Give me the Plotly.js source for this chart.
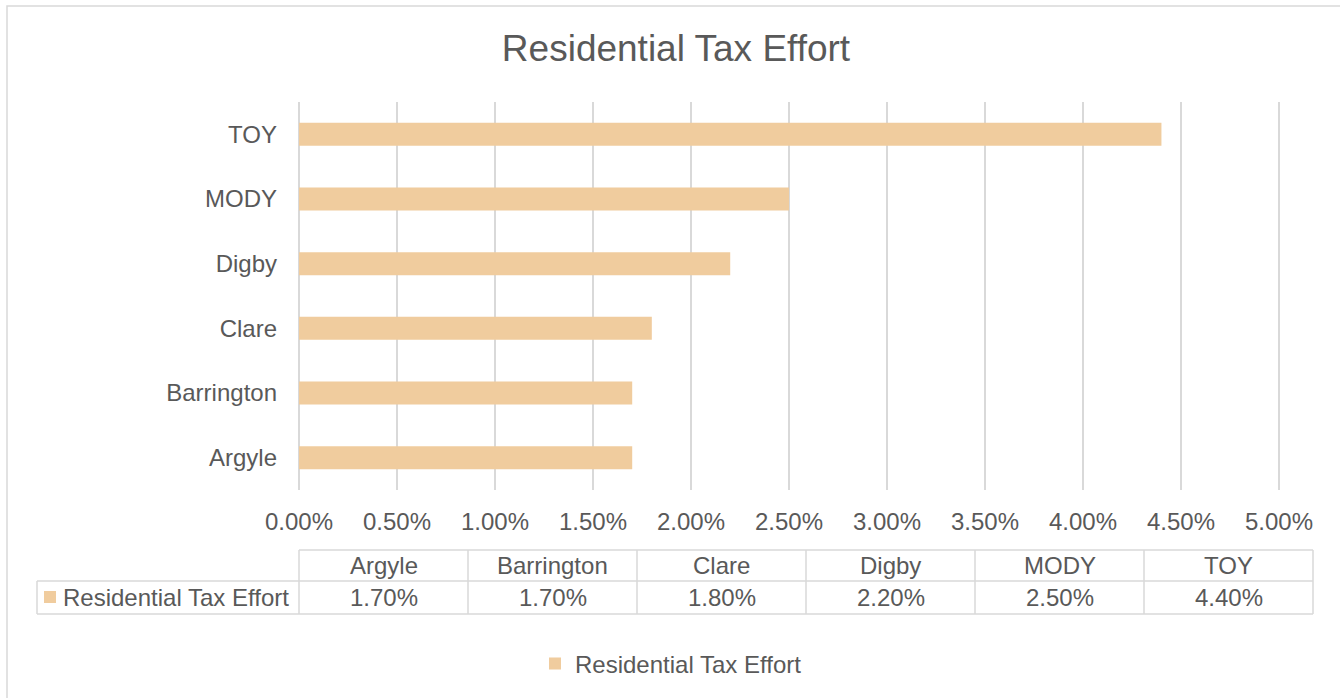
<!DOCTYPE html>
<html>
<head>
<meta charset="utf-8">
<script src="https://cdn.plot.ly/plotly-3.0.1.min.js"></script>
<style>
  html, body { margin: 0; padding: 0; background: #ffffff; }
  #chart { width: 1340px; height: 698px; }
</style>
</head>
<body>
<div id="chart"></div>
<script>
// ---- data ----
var categories = ["Argyle", "Barrington", "Clare", "Digby", "MODY", "TOY"];
var taxEffort = [0.017, 0.017, 0.018, 0.022, 0.025, 0.044];
var seriesName = "Residential Tax Effort";
var chartTitle = "Residential Tax Effort";
var xTickVals = [0, 0.005, 0.01, 0.015, 0.02, 0.025, 0.03, 0.035, 0.04, 0.045, 0.05];

// ---- layout geometry (pixels) ----
var W = 1340, H = 698;
var xMax = 0.0501;
var plotL = 299, plotT = 102, plotB = 490;
var plotR = plotL + Math.round(980 * xMax / 0.05);
function px(x) { return (x - plotL) / (plotR - plotL); }
function py(y) { return (plotB - y) / (plotB - plotT); }

var textColor = "#595959";
var gridColor = "#D9D9D9";
var barColor = "#F0CC9E";
var fontFam = "Liberation Sans, Arial, sans-serif";
var fs = 24;

// table geometry
var tblLeft = 37, tblFirst = 299, tblColW = 169, tblTop = 550, tblMid = 581, tblBot = 614;
var tblRight = tblFirst + tblColW * categories.length;

var shapes = [];
var annotations = [];
function line(x0, y0, x1, y1) {
  shapes.push({type: "line", xref: "paper", yref: "paper",
    x0: px(x0), y0: py(y0), x1: px(x1), y1: py(y1),
    line: {color: gridColor, width: 1.5}});
}
// outer chart border
shapes.push({type: "rect", xref: "paper", yref: "paper",
  x0: px(7), y0: py(6), x1: px(W + 5), y1: py(H + 5),
  line: {color: gridColor, width: 1.5}, fillcolor: "rgba(0,0,0,0)", layer: "below"});
// table lines
line(tblFirst, tblTop, tblRight, tblTop);
line(tblLeft, tblMid, tblRight, tblMid);
line(tblLeft, tblBot, tblRight, tblBot);
line(tblLeft, tblMid, tblLeft, tblBot);
for (var i = 0; i <= categories.length; i++) {
  var xx = tblFirst + i * tblColW;
  line(xx, tblTop, xx, tblBot);
}
// table texts
for (var i = 0; i < categories.length; i++) {
  var cx = tblFirst + (i + 0.5) * tblColW;
  annotations.push({xref: "paper", yref: "paper", x: px(cx), y: py((tblTop + tblMid) / 2),
    xanchor: "center", yanchor: "middle", showarrow: false, text: categories[i],
    font: {family: fontFam, size: fs, color: textColor}});
  annotations.push({xref: "paper", yref: "paper", x: px(cx), y: py((tblMid + tblBot) / 2),
    xanchor: "center", yanchor: "middle", showarrow: false,
    text: (taxEffort[i] * 100).toFixed(2) + "%",
    font: {family: fontFam, size: fs, color: textColor}});
}
// legend key inside table
shapes.push({type: "rect", xref: "paper", yref: "paper",
  x0: px(44), x1: px(56), y0: py(591), y1: py(603),
  line: {width: 0}, fillcolor: barColor});
annotations.push({xref: "paper", yref: "paper", x: px(61), y: py((tblMid + tblBot) / 2),
  xanchor: "left", yanchor: "middle", showarrow: false, text: seriesName,
  font: {family: fontFam, size: fs, color: textColor}});

var trace = {
  type: "bar",
  orientation: "h",
  name: seriesName,
  y: categories,
  x: taxEffort,
  marker: {color: barColor},
  hoverinfo: "x+y"
};

var layout = {
  width: W, height: H,
  margin: {l: plotL, r: W - plotR, t: plotT, b: H - plotB, pad: 0},
  paper_bgcolor: "#ffffff",
  plot_bgcolor: "#ffffff",
  font: {family: fontFam, size: fs, color: textColor},
  title: {text: chartTitle, xref: "container", yref: "container",
    x: 676 / W, y: 1 - 48 / H, xanchor: "center", yanchor: "middle",
    font: {family: fontFam, size: 37, color: textColor}},
  bargap: 0.645,
  showlegend: true,
  legend: {orientation: "h", x: px(535), y: py(664), xanchor: "left", yanchor: "middle",
    font: {family: fontFam, size: fs, color: textColor}, bgcolor: "rgba(0,0,0,0)"},
  xaxis: {
    range: [0, xMax], tickvals: xTickVals, tickformat: ".2%",
    showgrid: true, gridcolor: gridColor, gridwidth: 1.5,
    zeroline: true, zerolinecolor: gridColor, zerolinewidth: 1.5,
    showline: false, ticks: "", ticklabelstandoff: 15,
    tickfont: {family: fontFam, size: fs, color: textColor}, fixedrange: true
  },
  yaxis: {
    type: "category", categoryorder: "array", categoryarray: categories,
    showgrid: false, zeroline: false, showline: false, ticks: "",
    ticklabelstandoff: 21,
    tickfont: {family: fontFam, size: fs, color: textColor}, fixedrange: true
  },
  shapes: shapes,
  annotations: annotations
};

Plotly.newPlot("chart", [trace], layout, {displayModeBar: false, staticPlot: true});
</script>
</body>
</html>
